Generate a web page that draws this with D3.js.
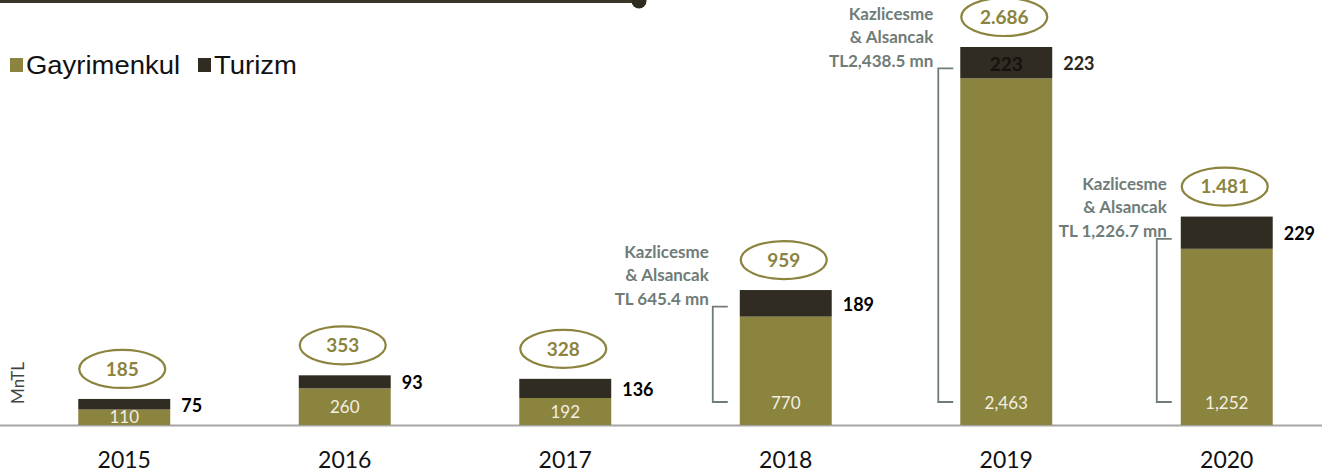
<!DOCTYPE html>
<html>
<head>
<meta charset="utf-8">
<script src="https://cdn.jsdelivr.net/npm/d3@7"></script>
<style>
  html, body { margin: 0; padding: 0; background: #fff; }
  svg { display: block; }
</style>
</head>
<body>
<svg id="chart" width="1322" height="476"></svg>
<script>
// Revenue by segment, million TL
const years = ["2015", "2016", "2017", "2018", "2019", "2020"];
const gayrimenkul = [110, 260, 192, 770, 2463, 1252];
const turizm = [75, 93, 136, 189, 223, 229];
const totalLabels = ["185", "353", "328", "959", "2.686", "1.481"];
const gayrimenkulLabels = ["110", "260", "192", "770", "2,463", "1,252"];

// Kazlicesme & Alsancak contribution callouts
const calloutYears = ["2018", "2019", "2020"];
const calloutLines = [
  ["Kazlicesme", "& Alsancak", "TL 645.4 mn"],
  ["Kazlicesme", "& Alsancak", "TL2,438.5 mn"],
  ["Kazlicesme", "& Alsancak", "TL 1,226.7 mn"]
];

const OLIVE = "#8b843e";
const DARK = "#302c22";
const NOTE = "#6f7c77";
const numFont = "Lato, 'Open Sans', sans-serif";

const svg = d3.select("#chart");
const baseY = 425;

const x = d3.scaleBand().domain(years).range([14, 1337])
  .paddingInner(0.583).paddingOuter(0.2915);
const y = d3.scaleLinear().domain([0, 2686]).range([baseY, 47]);

const rows = years.map((yr, i) => ({
  year: yr, g: gayrimenkul[i], t: turizm[i],
  total: gayrimenkul[i] + turizm[i], label: totalLabels[i], gl: gayrimenkulLabels[i]
}));

// Decorative header rule with end dot
svg.append("line").attr("x1", 0).attr("x2", 638).attr("y1", 1.5).attr("y2", 1.5)
  .attr("stroke", "#3a3527").attr("stroke-width", 3);
svg.append("circle").attr("cx", 639).attr("cy", 1).attr("r", 7.5).attr("fill", "#302c22");

// Legend
const legend = svg.append("g").attr("font-family", "'Liberation Sans', Arial, sans-serif")
  .attr("font-size", 25);
[["Gayrimenkul", OLIVE, 10, 154], ["Turizm", DARK, 198, 83]].forEach(([name, col, lx, w]) => {
  legend.append("rect").attr("x", lx).attr("y", 58).attr("width", 13).attr("height", 14).attr("fill", col);
  legend.append("text").attr("x", lx + 16).attr("y", 74)
    .attr("textLength", w).attr("lengthAdjust", "spacingAndGlyphs")
    .attr("fill", "#111").text(name);
});

// Y unit label
svg.append("text").attr("transform", "translate(24,383) rotate(-90)")
  .attr("text-anchor", "middle").attr("font-family", numFont).attr("font-size", 17)
  .attr("fill", "#444").text("MnTL");

// Baseline axis
const axis = svg.append("g").attr("transform", `translate(0,${baseY})`)
  .call(d3.axisBottom(x).tickSize(0).tickPadding(27));
axis.select(".domain").remove();
svg.insert("line", ":first-child").attr("x1", 0).attr("x2", 1322).attr("y1", baseY + 0.5).attr("y2", baseY + 0.5)
  .attr("stroke", "#a6a6a6").attr("stroke-width", 2);
axis.selectAll("text").attr("font-family", numFont).attr("font-size", 23).attr("fill", "#111");

// Stacked bars
const bars = svg.append("g");
bars.selectAll("rect.g").data(rows).join("rect").attr("class", "g")
  .attr("x", d => x(d.year)).attr("width", x.bandwidth())
  .attr("y", d => y(d.g)).attr("height", d => y(0) - y(d.g)).attr("fill", OLIVE);
bars.selectAll("rect.t").data(rows).join("rect").attr("class", "t")
  .attr("x", d => x(d.year)).attr("width", x.bandwidth())
  .attr("y", d => y(d.total)).attr("height", d => y(d.g) - y(d.total)).attr("fill", DARK);

// Gayrimenkul values inside the base of each bar
bars.selectAll("text.gv").data(rows).join("text").attr("class", "gv")
  .attr("x", d => x(d.year) + x.bandwidth() / 2)
  .attr("y", d => Math.max(baseY - 22, (y(d.g) + baseY) / 2))
  .attr("dy", "0.36em").attr("text-anchor", "middle")
  .attr("font-family", numFont).attr("font-size", 17).attr("fill", "#f3efe2")
  .text(d => d.gl);

// Turizm values to the right of each bar
bars.selectAll("text.tv").data(rows).join("text").attr("class", "tv")
  .attr("x", d => x(d.year) + x.bandwidth() + 11)
  .attr("y", d => (y(d.total) + y(d.g)) / 2 + 1)
  .attr("dy", "0.36em")
  .attr("font-family", numFont).attr("font-size", 18).attr("font-weight", "bold")
  .attr("fill", d => d.year === "2019" ? "#2a2620" : "#000")
  .text(d => d.t);

// 2019 also carries its Turizm value inside the segment
const r19 = rows.find(d => d.year === "2019");
bars.append("text")
  .attr("x", x(r19.year) + x.bandwidth() / 2)
  .attr("y", (y(r19.total) + y(r19.g)) / 2 + 1)
  .attr("dy", "0.36em").attr("text-anchor", "middle")
  .attr("font-family", numFont).attr("font-size", 19).attr("font-weight", "bold")
  .attr("fill", "#15130e").text(r19.t);

// Total badges
const badges = svg.append("g");
badges.selectAll("ellipse").data(rows).join("ellipse")
  .attr("cx", d => x(d.year) + x.bandwidth() / 2 - 2)
  .attr("cy", d => y(d.total) - 30)
  .attr("rx", 43).attr("ry", 19)
  .attr("fill", "none").attr("stroke", OLIVE).attr("stroke-width", 2.2);
badges.selectAll("text").data(rows).join("text")
  .attr("x", d => x(d.year) + x.bandwidth() / 2 - 2)
  .attr("y", d => y(d.total) - 30)
  .attr("dy", "0.36em").attr("text-anchor", "middle")
  .attr("font-family", numFont).attr("font-size", 19).attr("font-weight", "bold")
  .attr("fill", OLIVE).text(d => d.label);

// Kazlicesme & Alsancak callouts: bracket alongside the Gayrimenkul segment
const bracketGap = [27, 22, 24];   // bracket distance left of the bar
const textGap = [31, 27, 14];      // text right edge distance left of the bar
const notes = svg.append("g");
calloutYears.forEach((yr, i) => {
  const r = rows.find(d => d.year === yr);
  const bx = x(yr) - bracketGap[i];
  const bottom = baseY - 23;
  const top = y(r.g) - 10;
  notes.append("path")
    .attr("d", `M${bx + 15},${top} H${bx} V${bottom} H${bx + 15}`)
    .attr("fill", "none").attr("stroke", NOTE).attr("stroke-width", 1.8);
  const tx = x(yr) - textGap[i];
  const ty = top - 55;
  calloutLines[i].forEach((ln, j) => {
    notes.append("text").attr("x", tx).attr("y", ty + j * 23.5)
      .attr("dy", "0.36em").attr("text-anchor", "end")
      .attr("font-family", numFont).attr("font-size", 17).attr("font-weight", "bold")
      .attr("fill", NOTE).text(ln);
  });
});
</script>
</body>
</html>
